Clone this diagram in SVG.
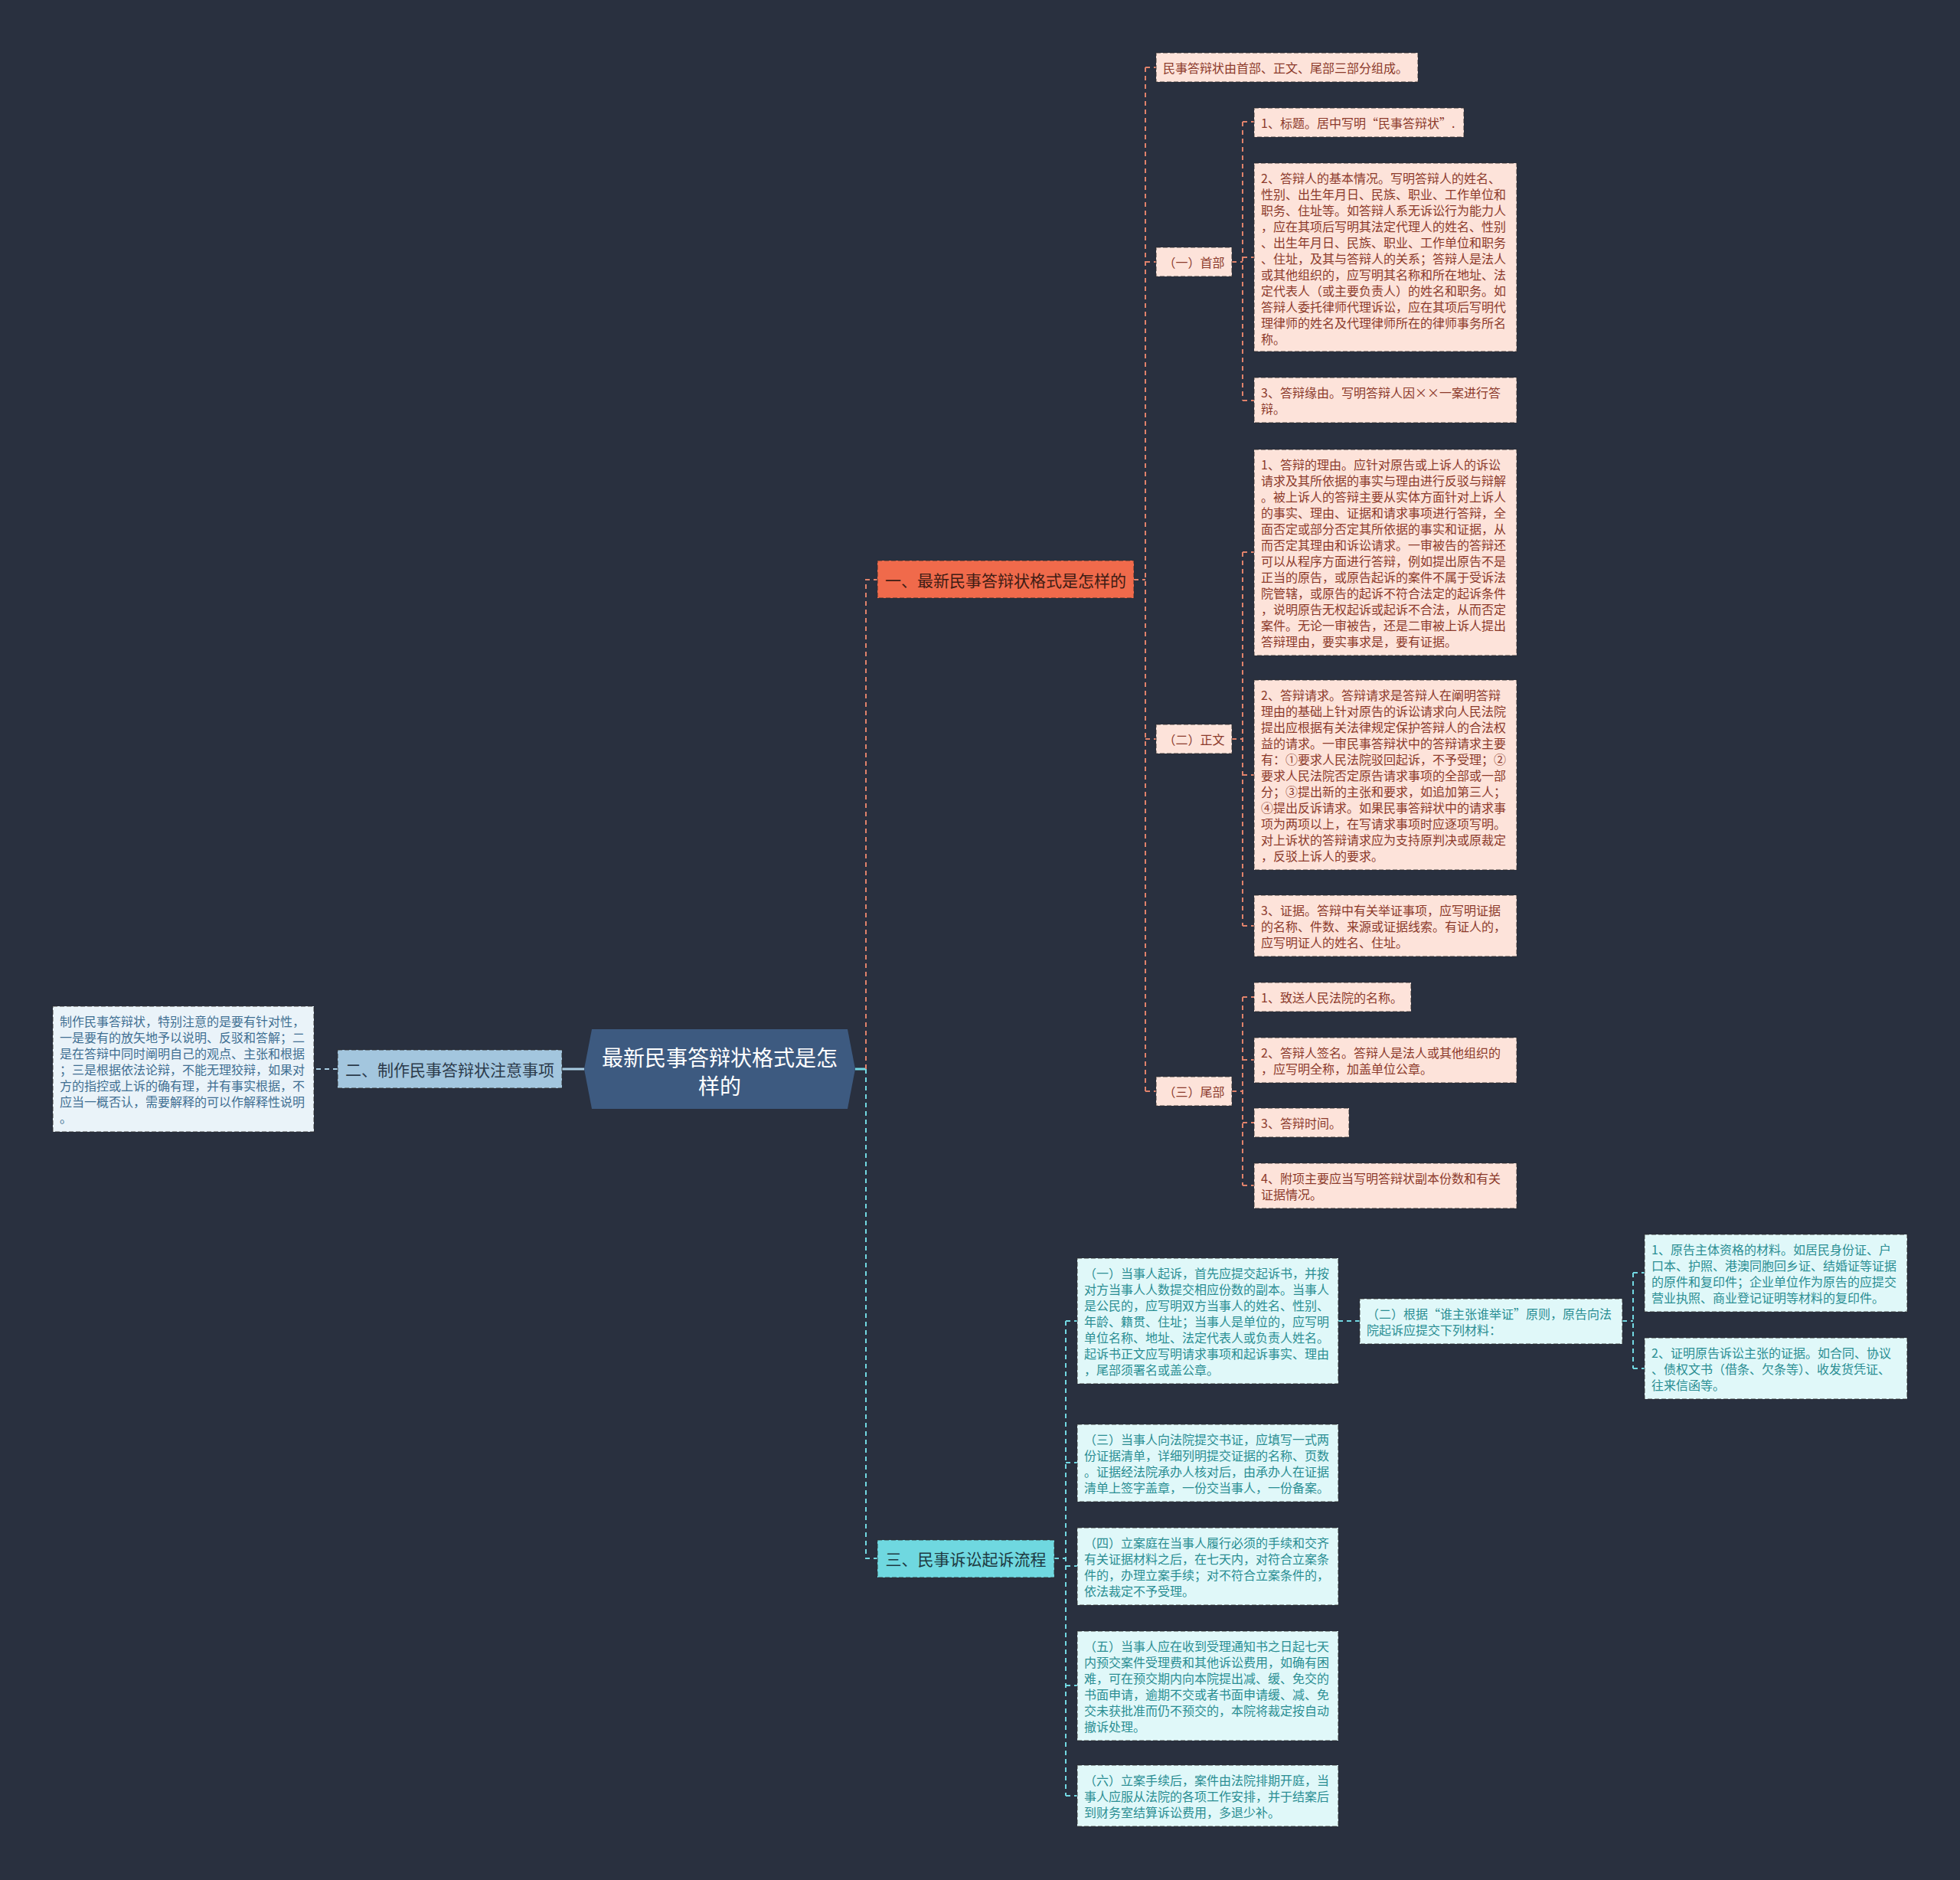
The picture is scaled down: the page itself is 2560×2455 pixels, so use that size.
<svg xmlns="http://www.w3.org/2000/svg" width="2560" height="2455" viewBox="0 0 2560 2455">
<style>
text{font-family:"Noto Sans CJK SC","Microsoft YaHei",sans-serif;dominant-baseline:central}
.box{stroke:#2a2a2a;stroke-opacity:.55;stroke-width:1.5;stroke-dasharray:6 3}
.pk{fill:#fde3da}
.pkt{fill:#8c3a2b;font-size:16px}
.bl{fill:#eaf3f9}
.blt{fill:#3f6f92;font-size:16px}
.cy{fill:#e0f8f9}
.cyt{fill:#2a8e93;font-size:16px}
.b1{fill:#f06a4b}
.b2{fill:#a3c6de}
.b3{fill:#6fd8e0}
.bt{font-size:21px;text-anchor:middle}
.lc{fill:none;stroke:#e0826b;stroke-width:2;stroke-dasharray:6 5}
.lb{fill:none;stroke:#a8cde3;stroke-width:2;stroke-dasharray:6 5}
.lt{fill:none;stroke:#72d8e2;stroke-width:2;stroke-dasharray:6 5}
</style>
<rect width="2560" height="2455" fill="#29303f"/>
<g id="connectors">
<path d="M763 1396H734" stroke="#a8cde3" stroke-width="3" fill="none"/>
<path d="M1117 1396H1131" stroke="#72d8e2" stroke-width="3" fill="none"/>
<path class="lc" d="M1131 1396V757H1146"/>
<path class="lt" d="M1131 1396V2035H1146"/>
<path class="lb" d="M441 1396H410"/>
<path class="lc" d="M1481 757H1496"/>
<path class="lc" d="M1496 88V1425"/>
<path class="lc" d="M1496 88H1510M1496 342H1510M1496 965H1510M1496 1425H1510"/>
<path class="lc" d="M1609 342H1623M1623 159V523M1623 159H1638M1623 336H1638M1623 523H1638"/>
<path class="lc" d="M1609 965H1623M1623 721V1209M1623 721H1638M1623 1012H1638M1623 1209H1638"/>
<path class="lc" d="M1609 1425H1623M1623 1302V1548M1623 1302H1638M1623 1384H1638M1623 1466H1638M1623 1548H1638"/>
<path class="lt" d="M1377 2035H1392M1392 1725V2345M1392 1725H1407M1392 1910H1407M1392 2045H1407M1392 2201H1407M1392 2345H1407"/>
<path class="lt" d="M1748 1725H1776"/>
<path class="lt" d="M2119 1725H2133M2133 1662V1787M2133 1662H2148M2133 1787H2148"/>
</g>
<g id="center">
<polygon points="763,1396 773,1344 1107,1344 1117,1396 1107,1448 773,1448" fill="#3d5a80"/>
<text x="940" y="1380" fill="#ffffff" font-size="28" text-anchor="middle">最新民事答辩状格式是怎</text>
<text x="940" y="1417" fill="#ffffff" font-size="28" text-anchor="middle">样的</text>
</g>
<g id="b1">
<rect class="box b1" x="1146" y="732" width="335" height="49"/>
<text class="bt" x="1313.5" y="757" fill="#3e1c14">一、最新民事答辩状格式是怎样的</text>
</g>
<g id="b2">
<rect class="box b2" x="441" y="1371" width="293" height="50"/>
<text class="bt" x="587.5" y="1396" fill="#2c3b4b">二、制作民事答辩状注意事项</text>
</g>
<g id="b3">
<rect class="box b3" x="1146" y="2011" width="231" height="49"/>
<text class="bt" x="1261.5" y="2035" fill="#1e3a42">三、民事诉讼起诉流程</text>
</g>
<g id="a0">
<rect class="box pk" x="1510" y="69" width="342" height="38"/>
<text class="pkt" x="1519" y="88">民事答辩状由首部、正文、尾部三部分组成。</text>
</g>
<g id="shoubu">
<rect class="box pk" x="1510" y="323" width="99" height="38"/>
<text class="pkt" x="1559.5" y="342" text-anchor="middle">（一）首部</text>
</g>
<g id="zhengwen">
<rect class="box pk" x="1510" y="946" width="99" height="38"/>
<text class="pkt" x="1559.5" y="965" text-anchor="middle">（二）正文</text>
</g>
<g id="weibu">
<rect class="box pk" x="1510" y="1406" width="99" height="38"/>
<text class="pkt" x="1559.5" y="1425" text-anchor="middle">（三）尾部</text>
</g>
<g id="h1">
<rect class="box pk" x="1638" y="141" width="274" height="38"/>
<text class="pkt" x="1647" y="160">1、标题。居中写明“民事答辩状”.</text>
</g>
<g id="h2">
<rect class="box pk" x="1638" y="213" width="343" height="246"/>
<text class="pkt" y="232"><tspan x="1647">2、答辩人的基本情况。写明答辩人的姓名、</tspan><tspan x="1647" dy="21">性别、出生年月日、民族、职业、工作单位和</tspan><tspan x="1647" dy="21">职务、住址等。如答辩人系无诉讼行为能力人</tspan><tspan x="1647" dy="21">，应在其项后写明其法定代理人的姓名、性别</tspan><tspan x="1647" dy="21">、出生年月日、民族、职业、工作单位和职务</tspan><tspan x="1647" dy="21">、住址，及其与答辩人的关系；答辩人是法人</tspan><tspan x="1647" dy="21">或其他组织的，应写明其名称和所在地址、法</tspan><tspan x="1647" dy="21">定代表人（或主要负责人）的姓名和职务。如</tspan><tspan x="1647" dy="21">答辩人委托律师代理诉讼，应在其项后写明代</tspan><tspan x="1647" dy="21">理律师的姓名及代理律师所在的律师事务所名</tspan><tspan x="1647" dy="21">称。</tspan></text>
</g>
<g id="h3">
<rect class="box pk" x="1638" y="493" width="343" height="59"/>
<text class="pkt" y="512"><tspan x="1647">3、答辩缘由。写明答辩人因××一案进行答</tspan><tspan x="1647" dy="21">辩。</tspan></text>
</g>
<g id="z1">
<rect class="box pk" x="1638" y="587" width="343" height="269"/>
<text class="pkt" y="606"><tspan x="1647">1、答辩的理由。应针对原告或上诉人的诉讼</tspan><tspan x="1647" dy="21">请求及其所依据的事实与理由进行反驳与辩解</tspan><tspan x="1647" dy="21">。被上诉人的答辩主要从实体方面针对上诉人</tspan><tspan x="1647" dy="21">的事实、理由、证据和请求事项进行答辩，全</tspan><tspan x="1647" dy="21">面否定或部分否定其所依据的事实和证据，从</tspan><tspan x="1647" dy="21">而否定其理由和诉讼请求。一审被告的答辩还</tspan><tspan x="1647" dy="21">可以从程序方面进行答辩，例如提出原告不是</tspan><tspan x="1647" dy="21">正当的原告，或原告起诉的案件不属于受诉法</tspan><tspan x="1647" dy="21">院管辖，或原告的起诉不符合法定的起诉条件</tspan><tspan x="1647" dy="21">，说明原告无权起诉或起诉不合法，从而否定</tspan><tspan x="1647" dy="21">案件。无论一审被告，还是二审被上诉人提出</tspan><tspan x="1647" dy="21">答辩理由，要实事求是，要有证据。</tspan></text>
</g>
<g id="z2">
<rect class="box pk" x="1638" y="888" width="343" height="248"/>
<text class="pkt" y="907"><tspan x="1647">2、答辩请求。答辩请求是答辩人在阐明答辩</tspan><tspan x="1647" dy="21">理由的基础上针对原告的诉讼请求向人民法院</tspan><tspan x="1647" dy="21">提出应根据有关法律规定保护答辩人的合法权</tspan><tspan x="1647" dy="21">益的请求。一审民事答辩状中的答辩请求主要</tspan><tspan x="1647" dy="21">有：①要求人民法院驳回起诉，不予受理；②</tspan><tspan x="1647" dy="21">要求人民法院否定原告请求事项的全部或一部</tspan><tspan x="1647" dy="21">分；③提出新的主张和要求，如追加第三人；</tspan><tspan x="1647" dy="21">④提出反诉请求。如果民事答辩状中的请求事</tspan><tspan x="1647" dy="21">项为两项以上，在写请求事项时应逐项写明。</tspan><tspan x="1647" dy="21">对上诉状的答辩请求应为支持原判决或原裁定</tspan><tspan x="1647" dy="21">，反驳上诉人的要求。</tspan></text>
</g>
<g id="z3">
<rect class="box pk" x="1638" y="1169" width="343" height="80"/>
<text class="pkt" y="1188"><tspan x="1647">3、证据。答辩中有关举证事项，应写明证据</tspan><tspan x="1647" dy="21">的名称、件数、来源或证据线索。有证人的，</tspan><tspan x="1647" dy="21">应写明证人的姓名、住址。</tspan></text>
</g>
<g id="w1">
<rect class="box pk" x="1638" y="1283" width="205" height="38"/>
<text class="pkt" x="1647" y="1302">1、致送人民法院的名称。</text>
</g>
<g id="w2">
<rect class="box pk" x="1638" y="1355" width="343" height="59"/>
<text class="pkt" y="1374"><tspan x="1647">2、答辩人签名。答辩人是法人或其他组织的</tspan><tspan x="1647" dy="21">，应写明全称，加盖单位公章。</tspan></text>
</g>
<g id="w3">
<rect class="box pk" x="1638" y="1447" width="124" height="38"/>
<text class="pkt" x="1647" y="1466">3、答辩时间。</text>
</g>
<g id="w4">
<rect class="box pk" x="1638" y="1519" width="343" height="59"/>
<text class="pkt" y="1538"><tspan x="1647">4、附项主要应当写明答辩状副本份数和有关</tspan><tspan x="1647" dy="21">证据情况。</tspan></text>
</g>
<g id="note">
<rect class="box bl" x="69" y="1314" width="341" height="164"/>
<text class="blt" y="1333"><tspan x="78">制作民事答辩状，特别注意的是要有针对性，</tspan><tspan x="78" dy="21">一是要有的放矢地予以说明、反驳和答解；二</tspan><tspan x="78" dy="21">是在答辩中同时阐明自己的观点、主张和根据</tspan><tspan x="78" dy="21">；三是根据依法论辩，不能无理狡辩，如果对</tspan><tspan x="78" dy="21">方的指控或上诉的确有理，并有事实根据，不</tspan><tspan x="78" dy="21">应当一概否认，需要解释的可以作解释性说明</tspan><tspan x="78" dy="21">。</tspan></text>
</g>
<g id="c1">
<rect class="box cy" x="1407" y="1643" width="341" height="164"/>
<text class="cyt" y="1662"><tspan x="1416">（一）当事人起诉，首先应提交起诉书，并按</tspan><tspan x="1416" dy="21">对方当事人人数提交相应份数的副本。当事人</tspan><tspan x="1416" dy="21">是公民的，应写明双方当事人的姓名、性别、</tspan><tspan x="1416" dy="21">年龄、籍贯、住址；当事人是单位的，应写明</tspan><tspan x="1416" dy="21">单位名称、地址、法定代表人或负责人姓名。</tspan><tspan x="1416" dy="21">起诉书正文应写明请求事项和起诉事实、理由</tspan><tspan x="1416" dy="21">，尾部须署名或盖公章。</tspan></text>
</g>
<g id="c2">
<rect class="box cy" x="1776" y="1696" width="343" height="59"/>
<text class="cyt" y="1715"><tspan x="1785">（二）根据“谁主张谁举证”原则，原告向法</tspan><tspan x="1785" dy="21">院起诉应提交下列材料：</tspan></text>
</g>
<g id="c2a">
<rect class="box cy" x="2148" y="1612" width="343" height="101"/>
<text class="cyt" y="1631"><tspan x="2157">1、原告主体资格的材料。如居民身份证、户</tspan><tspan x="2157" dy="21">口本、护照、港澳同胞回乡证、结婚证等证据</tspan><tspan x="2157" dy="21">的原件和复印件；企业单位作为原告的应提交</tspan><tspan x="2157" dy="21">营业执照、商业登记证明等材料的复印件。</tspan></text>
</g>
<g id="c2b">
<rect class="box cy" x="2148" y="1747" width="343" height="80"/>
<text class="cyt" y="1766"><tspan x="2157">2、证明原告诉讼主张的证据。如合同、协议</tspan><tspan x="2157" dy="21">、债权文书（借条、欠条等）、收发货凭证、</tspan><tspan x="2157" dy="21">往来信函等。</tspan></text>
</g>
<g id="c3">
<rect class="box cy" x="1407" y="1860" width="341" height="101"/>
<text class="cyt" y="1879"><tspan x="1416">（三）当事人向法院提交书证，应填写一式两</tspan><tspan x="1416" dy="21">份证据清单，详细列明提交证据的名称、页数</tspan><tspan x="1416" dy="21">。证据经法院承办人核对后，由承办人在证据</tspan><tspan x="1416" dy="21">清单上签字盖章，一份交当事人，一份备案。</tspan></text>
</g>
<g id="c4">
<rect class="box cy" x="1407" y="1995" width="341" height="101"/>
<text class="cyt" y="2014"><tspan x="1416">（四）立案庭在当事人履行必须的手续和交齐</tspan><tspan x="1416" dy="21">有关证据材料之后，在七天内，对符合立案条</tspan><tspan x="1416" dy="21">件的，办理立案手续；对不符合立案条件的，</tspan><tspan x="1416" dy="21">依法裁定不予受理。</tspan></text>
</g>
<g id="c5">
<rect class="box cy" x="1407" y="2130" width="341" height="143"/>
<text class="cyt" y="2149"><tspan x="1416">（五）当事人应在收到受理通知书之日起七天</tspan><tspan x="1416" dy="21">内预交案件受理费和其他诉讼费用，如确有困</tspan><tspan x="1416" dy="21">难，可在预交期内向本院提出减、缓、免交的</tspan><tspan x="1416" dy="21">书面申请，逾期不交或者书面申请缓、减、免</tspan><tspan x="1416" dy="21">交未获批准而仍不预交的，本院将裁定按自动</tspan><tspan x="1416" dy="21">撤诉处理。</tspan></text>
</g>
<g id="c6">
<rect class="box cy" x="1407" y="2305" width="341" height="80"/>
<text class="cyt" y="2324"><tspan x="1416">（六）立案手续后，案件由法院排期开庭，当</tspan><tspan x="1416" dy="21">事人应服从法院的各项工作安排，并于结案后</tspan><tspan x="1416" dy="21">到财务室结算诉讼费用，多退少补。</tspan></text>
</g>
</svg>
